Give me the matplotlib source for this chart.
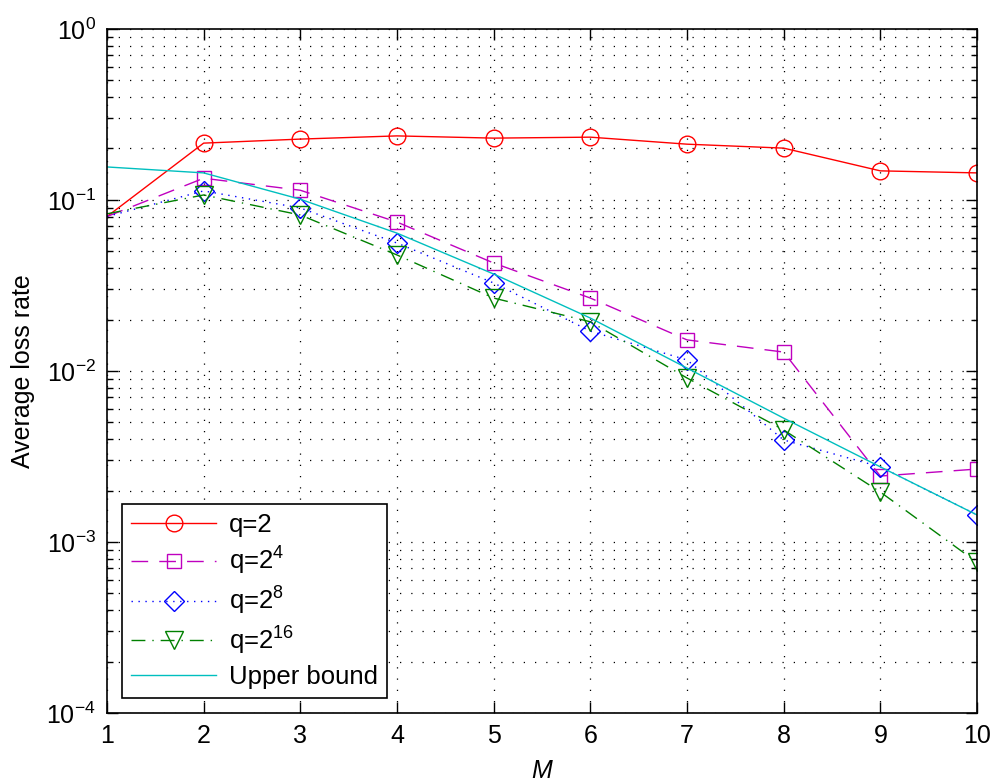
import numpy as np
import matplotlib
matplotlib.use('Agg')
import matplotlib.pyplot as plt
from matplotlib.ticker import LogLocator, NullFormatter, FixedLocator

plt.rcParams['font.family'] = ['Liberation Sans', 'DejaVu Sans']
plt.rcParams['mathtext.fontset'] = 'custom'
plt.rcParams['mathtext.rm'] = 'Liberation Sans'
plt.rcParams['mathtext.it'] = 'Liberation Sans:italic'

# data
M = [1, 2, 3, 4, 5, 6, 7, 8, 9, 10]
q2 = [0.080, 0.215, 0.227, 0.237, 0.230, 0.233, 0.212, 0.201, 0.148, 0.144]
q2_4 = [0.080, 0.134, 0.114, 0.0743, 0.0428, 0.0267, 0.0152, 0.0129, 0.00243, 0.00267]
q2_8 = [0.080, 0.113, 0.0898, 0.056, 0.0327, 0.0171, 0.0116, 0.00395, 0.00275, 0.00144]
q2_16 = [0.083, 0.107, 0.0817, 0.0477, 0.0267, 0.0194, 0.0091, 0.00452, 0.00196, 0.00076]
upper = [0.156, 0.144, 0.101, 0.064, 0.0369, 0.0204, 0.0104, 0.0053, 0.00275, 0.00144]

labels = ['q=2', r'q=2$^{4}$', r'q=2$^{8}$', r'q=2$^{16}$', 'Upper bound']

fig = plt.figure(figsize=(9.95, 7.83), dpi=100)
ax = fig.add_axes([0.1075, 0.0894, 0.8744, 0.8736])

# no marker drawn at M=1 in the original
mk = slice(1, None)
ax.plot(M, q2, '-', color=(1, 0, 0), lw=1.0, marker='o', ms=12, mfc='none', mew=1.0, markevery=mk, label=labels[0])
ax.plot(M, q2_4, color=(0.75, 0, 0.75), lw=1.0, ls=(0, (12, 8)), marker='s', ms=10, mfc='none', mew=1.0, markevery=mk, label=labels[1])
ax.plot(M, q2_8, color=(0, 0, 1), lw=1.0, ls=(0, (1, 4)), marker='D', ms=10, mfc='none', mew=1.0, markevery=mk, label=labels[2])
ax.plot(M, q2_16, color=(0, 0.5, 0), lw=1.0, ls=(0, (10, 5, 1, 5)), marker='v', ms=13, mfc='none', mew=1.0, markevery=mk, label=labels[3])
ax.plot(M, upper, '-', color=(0, 0.75, 0.75), lw=1.0, label=labels[4])

ax.set_yscale('log')
ax.set_xlim(1, 10)
ax.set_ylim(1e-4, 1e0)
ax.xaxis.set_major_locator(FixedLocator(M))
ax.yaxis.set_major_locator(LogLocator(base=10, numticks=10))
ax.yaxis.set_minor_locator(LogLocator(base=10, subs=np.arange(2, 10), numticks=20))
ax.yaxis.set_minor_formatter(NullFormatter())

ax.tick_params(which='both', direction='in', top=True, right=True, labelsize=18, width=1.0)
ax.tick_params(which='major', length=8, pad=8)
ax.tick_params(which='minor', length=4)
for s in ax.spines.values():
    s.set_linewidth(1.2)

ax.grid(True, which='major', axis='both', color='black', ls=(0, (1, 8)), lw=0.9)
ax.grid(True, which='minor', axis='y', color='black', ls=(0, (1, 8)), lw=0.9)

ax.set_xlabel('$\\mathit{M}$', fontsize=18, labelpad=8)
ax.set_ylabel('Average loss rate', fontsize=18, labelpad=8)

leg = ax.legend(loc='lower left', fontsize=18.5, numpoints=1, handlelength=3.3,
                fancybox=False, framealpha=1, edgecolor='black', borderaxespad=0.6,
                labelspacing=0.3, handletextpad=0.5, borderpad=0.35)
leg.get_frame().set_linewidth(1.2)

fig.savefig('out.png', dpi=100)
